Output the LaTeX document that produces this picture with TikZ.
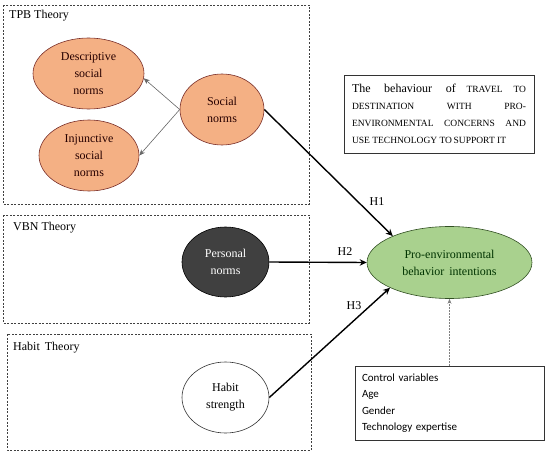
\documentclass[tikz,border=0pt]{standalone}
\usepackage{fontspec}
\setmainfont{Liberation Serif}
\newfontfamily\calib{Carlito}
\usetikzlibrary{shapes.geometric,arrows.meta}
\definecolor{orfill}{RGB}{244,176,132}
\definecolor{ordraw}{RGB}{120,45,40}
\definecolor{grfill}{RGB}{169,209,142}
\definecolor{grdraw}{RGB}{50,80,35}
\definecolor{pnfill}{RGB}{64,64,64}
\begin{document}
\begin{tikzpicture}[x=1pt,y=-1pt,
 theory/.style={draw=black!75, dash pattern=on 2pt off 1.5pt, line width=0.6pt},
 ttl/.style={anchor=west, inner sep=0pt, font=\fontsize{12}{14}\selectfont},
 ell/.style={ellipse, draw, inner sep=0pt, align=center, line width=0.6pt, font=\fontsize{12}{17}\selectfont},
 oell/.style={ell, fill=orfill, draw=ordraw, text=black!85!red},
 thinarr/.style={draw=gray!80!black, line width=0.6pt, -{Stealth[length=6pt,width=5pt]}},
 bigarr/.style={draw=black, line width=1.4pt, -{Stealth[length=7pt,width=6.5pt]}},
 hlab/.style={inner sep=0pt, font=\fontsize{12}{14}\selectfont},
 txtbox/.style={draw=black!80, line width=0.7pt, rectangle}
]
\useasboundingbox (0,0) rectangle (550,455);

% theory boxes
\draw[theory] (3,5) rectangle (309,204);
\draw[theory] (3,215) rectangle (309,323);
\draw[theory] (7,334) rectangle (311,450);
\node[ttl] (tpb) at (9,16) {TPB Theory};
\node[ttl] (vbn) at (13,228) {VBN Theory};
\node[ttl] (hab) at (13,348) {Habit\, Theory};

% ellipses
\node[oell, minimum width=111pt, minimum height=71pt] (desc) at (88.5,73.5) {Descriptive\\social\\norms};
\node[oell, minimum width=100pt, minimum height=71pt] (inj) at (89,155.5) {Injunctive\\social\\norms};
\node[oell, minimum width=84pt, minimum height=71pt] (soc) at (222,109.5) {Social\\norms};
\node[ell, fill=pnfill, draw=black, text=white, minimum width=87pt, minimum height=70pt] (pers) at (225.5,262) {Personal\\norms};
\node[ell, fill=white, draw=black!80, minimum width=87pt, minimum height=71pt] (habs) at (225.5,397.5) {Habit\\strength};
\node[ell, fill=grfill, draw=grdraw, text=black!80!green, minimum width=165pt, minimum height=72pt] (pro) at (449.5,262.5) {Pro-environmental\\behavior\, intentions};

% text boxes
\node[txtbox, minimum width=190pt, minimum height=78pt, text width=174pt, inner xsep=8pt, align=justify, font=\fontsize{9.5}{17}\selectfont] (beh) at (439,114)
 {{\fontsize{12}{17}\selectfont The behaviour of} TRAVEL TO\linebreak DESTINATION WITH PRO-\linebreak ENVIRONMENTAL CONCERNS AND\linebreak USE TECHNOLOGY TO\,SUPPORT IT};
\node[txtbox, minimum width=189pt, minimum height=74pt, text width=175pt, inner xsep=7pt, align=left, font=\calib\fontsize{11}{16.5}\selectfont] (ctrl) at (449.5,403)
 {Control variables\\Age\\Gender\\Technology expertise};

% connectors
\draw[thinarr] (soc.west) -- (desc.-5);
\draw[thinarr] (soc.west) -- (inj.east);
\draw[bigarr] (soc.east) -- (pro.155);
\draw[bigarr] (pers.east) -- (pro.west);
\draw[bigarr] (habs.east) -- (pro.203);
\draw[draw=gray, line width=0.7pt, dash pattern=on 1.5pt off 1.5pt, -{Stealth[length=5pt,width=4pt]}] (ctrl.north) -- (pro.south);

\node[hlab] (h1) at (377,202) {H1};
\node[hlab] (h2) at (345,252) {H2};
\node[hlab] (h3) at (354,306) {H3};
\end{tikzpicture}
\end{document}
